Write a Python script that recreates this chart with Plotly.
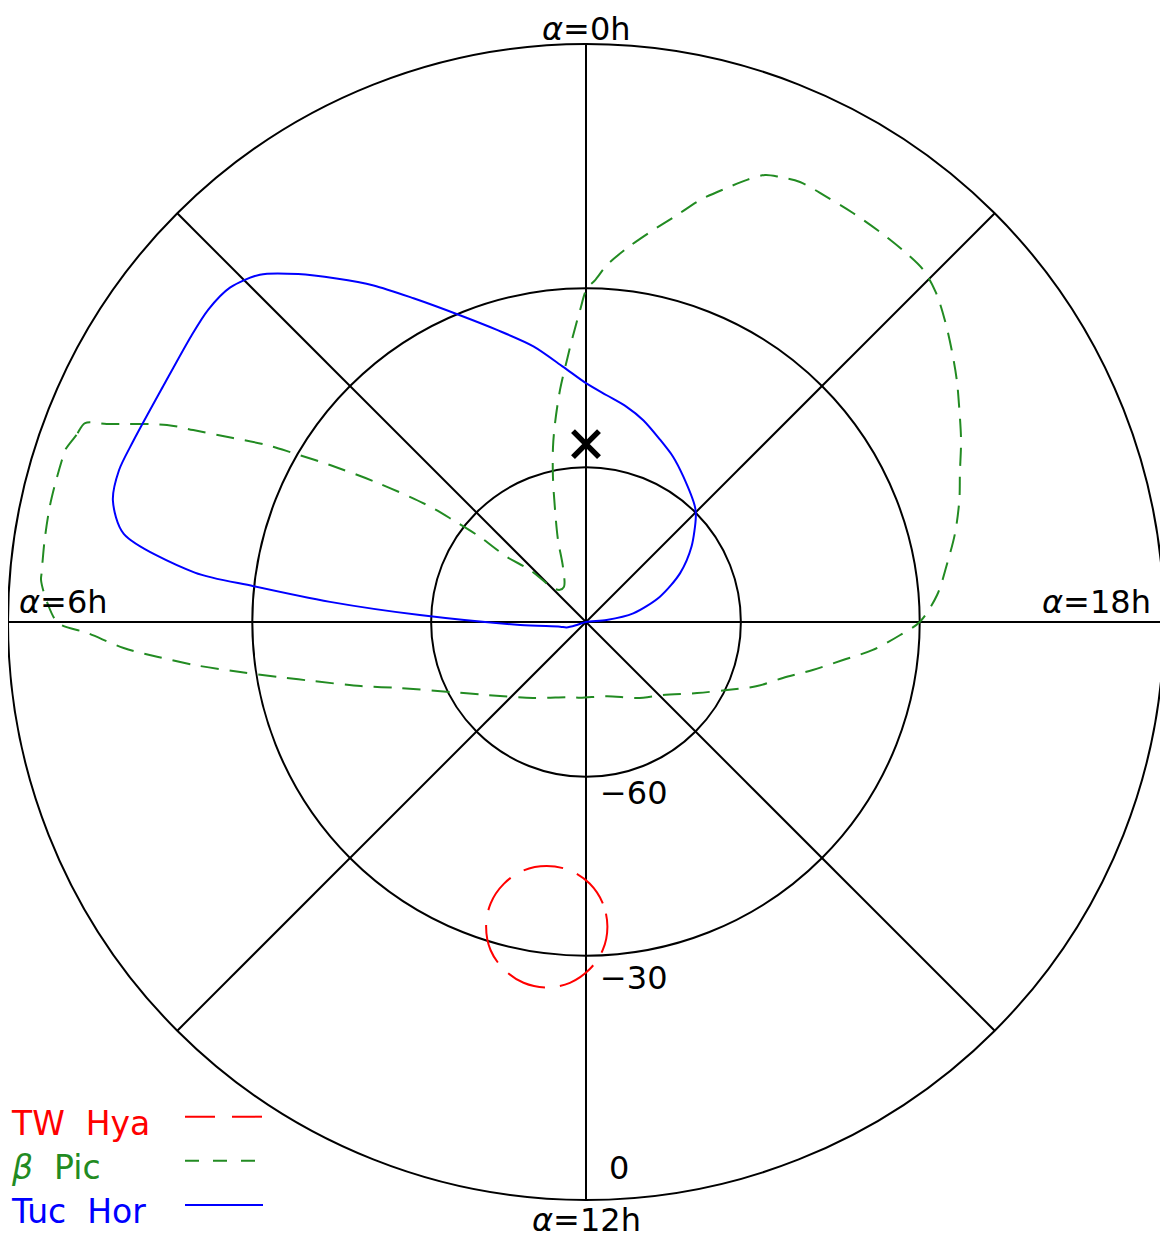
import math
import plotly.graph_objects as go

# ---------------- data (RA in hours, Dec in degrees) ----------------
tuc_hor_ra = [18.0, 18.37, 18.69, 19.26, 19.83, 20.37, 20.92, 21.11, 21.75, 22.144,
              22.525, 22.944, 23.287, 23.653, 0.0, 0.34, 0.72, 1.13, 1.49, 1.87,
              2.15, 2.40, 2.64, 2.88, 3.12, 3.36, 3.60, 4.06, 4.55, 4.80,
              5.04, 5.28, 5.52, 5.59, 5.70, 5.84, 6.17, 6.68, 7.03, 7.19, 7.2]
tuc_hor_dec = [-90, -85.9, -80.5, -74.6, -69.2, -64.7, -60.5, -59.3, -56.3, -54.2,
               -52.4, -50.1, -48.5, -47.0, -45.1, -42.2, -38.2, -34.3, -30.3, -25.2,
               -20.9, -17.4, -14.0, -11.0, -9.6, -9.4, -9.7, -10.1, -9.7, -9.3,
               -9.6, -11.7, -21.4, -29.9, -42.1, -57.9, -77.0, -84.8, -86.0, -88.1, -90]

beta_pic_ra = [4.556, 4.656, 4.782, 4.855, 5.022, 5.193, 5.425, 5.657, 5.706, 5.865,
               6.007, 6.084, 6.215, 6.311, 6.419, 6.548, 6.675, 6.81, 7.059, 7.29,
               7.827, 8.445, 9.673, 11.246, 11.70, 13.056, 14.257, 15.101, 15.827, 16.283,
               16.632, 16.942, 17.204, 17.439, 17.629, 17.842, 18.0, 18.293, 18.619, 18.904,
               19.207, 19.448, 19.726, 20.028, 20.208, 20.441, 20.671, 20.888, 21.083, 21.304,
               21.533, 21.791, 22.029, 22.271, 22.43, 22.545, 22.666, 22.8, 22.992, 23.16,
               23.379, 23.583, 23.775, 23.9, 23.989, 0.073, 0.19, 0.277, 0.426, 0.59,
               0.712, 0.855, 1.031, 1.257, 1.513, 2.143, 2.606, 2.943, 3.141, 3.37,
               3.419, 3.501, 3.577, 3.75, 3.899, 4.002, 4.065, 4.165, 4.264, 4.321,
               4.503, 4.556]
beta_pic_dec = [-4.0, -3.6, -3.0, -3.0, -3.0, -3.0, -3.1, -3.2, -3.2, -4.0,
                -5.2, -8.4, -12.6, -16.8, -21.5, -27.7, -33.2, -38.3, -45.9, -52.0,
                -60.5, -66.1, -71.8, -74.9, -75.0, -74.8, -72.0, -69.2, -64.3, -59.7,
                -54.9, -51.0, -46.3, -41.6, -37.0, -32.9, -30.0, -27.3, -25.3, -23.4,
                -21.6, -20.3, -18.4, -16.4, -15.1, -13.5, -11.9, -10.5, -9.7, -9.6,
                -9.6, -9.6, -9.6, -9.5, -9.95, -10.4, -11.7, -13.4, -15.8, -18.4,
                -21.3, -23.9, -26.5, -28.8, -30.0, -33.3, -37.9, -41.1, -46.0, -51.6,
                -55.75, -61.1, -67.3, -72.95, -78.2, -81.8, -81.8, -80.6, -74.9, -69.9,
                -63.5, -57.7, -52.3, -43.2, -35.1, -29.3, -25.5, -20.9, -15.8, -12.6,
                -6.2, -4.0]

tw_hya_ra = [12.268, 12.228, 12.053, 11.753, 11.39, 11.059, 10.838, 10.752, 10.789,
             10.92, 11.114, 11.345, 11.591, 11.83, 12.039, 12.195, 12.268]
tw_hya_dec = [-34.3, -38.0, -41.3, -43.4, -43.7, -42.2, -39.2, -35.6, -32.0,
              -28.8, -26.6, -25.3, -25.1, -26.0, -28.0, -30.8, -34.3]

marker_ra = [0.0]
marker_dec = [-55.8]

dec_ticks = [-60, -30, 0]
dec_tick_labels = ["\u221260", "\u221230", "0"]
ra_tick_hours = [0, 3, 6, 9, 12, 15, 18, 21]

series_names = ["TW  Hya", "<i>\u03b2</i>  Pic", "Tuc  Hor"]
series_colors = ["#ff0000", "#228b22", "#0000ff"]


# ---------------- projection helpers (stereographic scale) ----------------
def proj_r(dec):
    return [math.tan(math.radians(45.0 + d / 2.0)) for d in dec]


def proj_theta(ra):
    return [h * 15.0 for h in ra]


# the page body has an 8px margin: the figure is drawn 8px right/down
OFF = 8
WIN_W, WIN_H = 1168, 1241
W, H = WIN_W - OFF, WIN_H - OFF
FONT = "DejaVu Sans"


def px(x):
    return (x - OFF) / W


def py(y):
    return 1 - (y - OFF) / H


fig = go.Figure()

fig.add_trace(go.Scatterpolar(
    r=proj_r(tw_hya_dec), theta=proj_theta(tw_hya_ra), mode="lines",
    line=dict(color=series_colors[0], width=2, dash="40px,15px",
              shape="spline", smoothing=1.0),
    showlegend=False, hoverinfo="skip"))
fig.add_trace(go.Scatterpolar(
    r=proj_r(beta_pic_dec), theta=proj_theta(beta_pic_ra), mode="lines",
    line=dict(color=series_colors[1], width=2, dash="18px,11px",
              shape="spline", smoothing=0.9),
    showlegend=False, hoverinfo="skip"))
fig.add_trace(go.Scatterpolar(
    r=proj_r(tuc_hor_dec), theta=proj_theta(tuc_hor_ra), mode="lines",
    line=dict(color=series_colors[2], width=2, shape="spline", smoothing=0.8),
    showlegend=False, hoverinfo="skip"))
fig.add_trace(go.Scatterpolar(
    r=proj_r(marker_dec), theta=proj_theta(marker_ra), mode="markers",
    marker=dict(symbol="x-thin", size=26, color="black",
                line=dict(color="black", width=5.5)),
    showlegend=False, hoverinfo="skip"))

tick_r = proj_r(dec_ticks[:-1])

fig.update_layout(
    width=W, height=H,
    margin=dict(l=0, r=0, t=0, b=0),
    paper_bgcolor="white",
    showlegend=False,
    polar=dict(
        domain=dict(x=[px(8), px(1164)], y=[py(1200), py(44)]),
        bgcolor="white",
        angularaxis=dict(
            rotation=90, direction="counterclockwise", thetaunit="degrees",
            tickmode="array", tickvals=[h * 15 for h in ra_tick_hours],
            showticklabels=False, ticks="",
            showgrid=True, gridcolor="black", gridwidth=2,
            showline=True, linecolor="black", linewidth=2),
        radialaxis=dict(
            range=[0, 1], tickmode="array", tickvals=tick_r,
            showticklabels=False, ticks="", showline=False,
            showgrid=True, gridcolor="black", gridwidth=2),
    ),
)

ann_font = dict(family=FONT, size=32, color="black")

annotations = [
    dict(x=px(586), y=py(OFF), text="<i>\u03b1</i>=0h", xanchor="center", yanchor="top"),
    dict(x=px(17), y=py(602), text="<i>\u03b1</i>=6h", xanchor="left", yanchor="middle"),
    dict(x=px(1153), y=py(602), text="<i>\u03b1</i>=18h", xanchor="right", yanchor="middle"),
    dict(x=px(586), y=py(1220), text="<i>\u03b1</i>=12h", xanchor="center", yanchor="middle"),
    dict(x=px(598), y=py(793), text=dec_tick_labels[0], xanchor="left", yanchor="middle"),
    dict(x=px(598), y=py(978), text=dec_tick_labels[1], xanchor="left", yanchor="middle"),
    dict(x=px(607), y=py(1168), text=dec_tick_labels[2], xanchor="left", yanchor="middle"),
]
for a in annotations:
    a.update(xref="paper", yref="paper", showarrow=False, font=ann_font)

legend_y = [1123, 1167, 1211]
legend_line_y = [1116.7, 1160.7, 1205]
legend_dash = ["30px,17px", "14px,14px", "solid"]
for name, col, ty in zip(series_names, series_colors, legend_y):
    annotations.append(dict(x=px(9), y=py(ty), text=name, xref="paper", yref="paper",
                            xanchor="left", yanchor="middle", showarrow=False,
                            font=dict(family=FONT, size=33, color=col)))

shapes = []
for col, ly, dsh in zip(series_colors, legend_line_y, legend_dash):
    shapes.append(dict(type="line", xref="paper", yref="paper",
                       x0=px(185), x1=px(263), y0=py(ly), y1=py(ly),
                       line=dict(color=col, width=2, dash=dsh)))

fig.update_layout(annotations=annotations, shapes=shapes)

fig.write_html("out.html")
